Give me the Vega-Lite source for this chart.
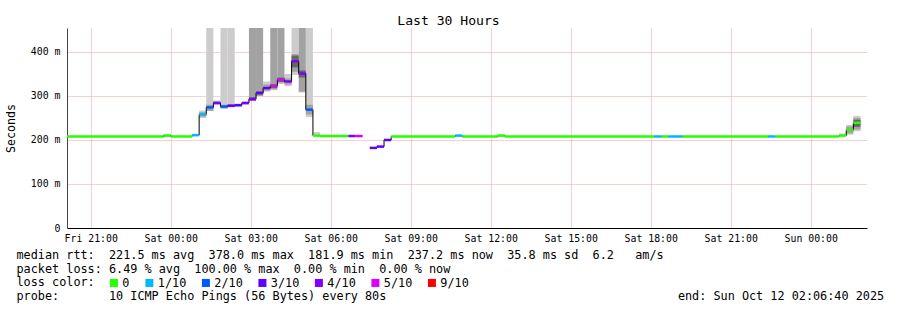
{
  "$schema": "https://vega.github.io/schema/vega-lite/v6.json",
  "width": 800,
  "height": 200,
  "autosize": {"type": "none"},
  "padding": {"left": 67, "top": 28, "right": 30, "bottom": 82},
  "background": "#ffffff",
  "config": {"view": {"stroke": null}, "font": "DejaVu Sans Mono", "axis": {"labelOverlap": false}},
  "title": {"text": "Last 30 Hours", "font": "DejaVu Sans Mono", "fontSize": 13.1, "fontWeight": "normal", "color": "#000000",
    "anchor": "middle", "frame": "group", "dx": -18.5, "dy": 14, "offset": 4, "baseline": "alphabetic"},
  "datasets": {
    "med": [
      {"t0": "2025-10-10T20:06:40Z", "t1": "2025-10-10T23:44:00Z", "med": 208, "loss": "0", "run": 1},
      {"t0": "2025-10-10T23:44:00Z", "t1": "2025-10-11T00:00:00Z", "med": 210, "loss": "0", "run": 1},
      {"t0": "2025-10-11T00:00:00Z", "t1": "2025-10-11T00:48:00Z", "med": 208, "loss": "0", "run": 1},
      {"t0": "2025-10-11T00:48:00Z", "t1": "2025-10-11T01:04:00Z", "med": 211, "loss": "1/10", "run": 1},
      {"t0": "2025-10-11T01:04:00Z", "t1": "2025-10-11T01:20:00Z", "med": 258, "loss": "1/10", "run": 1},
      {"t0": "2025-10-11T01:20:00Z", "t1": "2025-10-11T01:36:00Z", "med": 274, "loss": "2/10", "run": 1},
      {"t0": "2025-10-11T01:36:00Z", "t1": "2025-10-11T01:52:00Z", "med": 284, "loss": "4/10", "run": 1},
      {"t0": "2025-10-11T01:52:00Z", "t1": "2025-10-11T02:08:00Z", "med": 276, "loss": "2/10", "run": 1},
      {"t0": "2025-10-11T02:08:00Z", "t1": "2025-10-11T02:24:00Z", "med": 278, "loss": "3/10", "run": 1},
      {"t0": "2025-10-11T02:24:00Z", "t1": "2025-10-11T02:40:00Z", "med": 279, "loss": "3/10", "run": 1},
      {"t0": "2025-10-11T02:40:00Z", "t1": "2025-10-11T02:56:00Z", "med": 284, "loss": "4/10", "run": 1},
      {"t0": "2025-10-11T02:56:00Z", "t1": "2025-10-11T03:12:00Z", "med": 293, "loss": "4/10", "run": 1},
      {"t0": "2025-10-11T03:12:00Z", "t1": "2025-10-11T03:28:00Z", "med": 307, "loss": "3/10", "run": 1},
      {"t0": "2025-10-11T03:28:00Z", "t1": "2025-10-11T03:44:00Z", "med": 318, "loss": "3/10", "run": 1},
      {"t0": "2025-10-11T03:44:00Z", "t1": "2025-10-11T04:00:00Z", "med": 323, "loss": "5/10", "run": 1},
      {"t0": "2025-10-11T04:00:00Z", "t1": "2025-10-11T04:16:00Z", "med": 337, "loss": "5/10", "run": 1},
      {"t0": "2025-10-11T04:16:00Z", "t1": "2025-10-11T04:32:00Z", "med": 333, "loss": "4/10", "run": 1},
      {"t0": "2025-10-11T04:32:00Z", "t1": "2025-10-11T04:48:00Z", "med": 379, "loss": "4/10", "run": 1},
      {"t0": "2025-10-11T04:48:00Z", "t1": "2025-10-11T05:04:00Z", "med": 351, "loss": "4/10", "run": 1},
      {"t0": "2025-10-11T05:04:00Z", "t1": "2025-10-11T05:20:00Z", "med": 269, "loss": "2/10", "run": 1},
      {"t0": "2025-10-11T05:20:00Z", "t1": "2025-10-11T05:36:00Z", "med": 210, "loss": "0", "run": 1},
      {"t0": "2025-10-11T05:36:00Z", "t1": "2025-10-11T06:40:00Z", "med": 209, "loss": "0", "run": 1},
      {"t0": "2025-10-11T06:40:00Z", "t1": "2025-10-11T06:56:00Z", "med": 209, "loss": "4/10", "run": 1},
      {"t0": "2025-10-11T06:56:00Z", "t1": "2025-10-11T07:12:00Z", "med": 209, "loss": "5/10", "run": 1},
      {"t0": "2025-10-11T07:28:00Z", "t1": "2025-10-11T07:44:00Z", "med": 182, "loss": "3/10", "run": 2},
      {"t0": "2025-10-11T07:44:00Z", "t1": "2025-10-11T08:00:00Z", "med": 185, "loss": "3/10", "run": 2},
      {"t0": "2025-10-11T08:00:00Z", "t1": "2025-10-11T08:16:00Z", "med": 200, "loss": "3/10", "run": 2},
      {"t0": "2025-10-11T08:16:00Z", "t1": "2025-10-11T10:40:00Z", "med": 208, "loss": "0", "run": 2},
      {"t0": "2025-10-11T10:40:00Z", "t1": "2025-10-11T10:56:00Z", "med": 210, "loss": "1/10", "run": 2},
      {"t0": "2025-10-11T10:56:00Z", "t1": "2025-10-11T12:16:00Z", "med": 208, "loss": "0", "run": 2},
      {"t0": "2025-10-11T12:16:00Z", "t1": "2025-10-11T12:32:00Z", "med": 210, "loss": "0", "run": 2},
      {"t0": "2025-10-11T12:32:00Z", "t1": "2025-10-11T18:08:00Z", "med": 208, "loss": "0", "run": 2},
      {"t0": "2025-10-11T18:08:00Z", "t1": "2025-10-11T18:24:00Z", "med": 208, "loss": "1/10", "run": 2},
      {"t0": "2025-10-11T18:24:00Z", "t1": "2025-10-11T18:40:00Z", "med": 208, "loss": "0", "run": 2},
      {"t0": "2025-10-11T18:40:00Z", "t1": "2025-10-11T19:12:00Z", "med": 208, "loss": "1/10", "run": 2},
      {"t0": "2025-10-11T19:12:00Z", "t1": "2025-10-11T22:24:00Z", "med": 208, "loss": "0", "run": 2},
      {"t0": "2025-10-11T22:24:00Z", "t1": "2025-10-11T22:40:00Z", "med": 208, "loss": "1/10", "run": 2},
      {"t0": "2025-10-11T22:40:00Z", "t1": "2025-10-12T01:04:00Z", "med": 208, "loss": "0", "run": 2},
      {"t0": "2025-10-12T01:04:00Z", "t1": "2025-10-12T01:20:00Z", "med": 210, "loss": "0", "run": 2},
      {"t0": "2025-10-12T01:20:00Z", "t1": "2025-10-12T01:36:00Z", "med": 223, "loss": "0", "run": 2},
      {"t0": "2025-10-12T01:36:00Z", "t1": "2025-10-12T01:52:00Z", "med": 239, "loss": "0", "run": 2}
    ],
    "smoke": [
      {"t0": "2025-10-10T23:44:00Z", "t1": "2025-10-11T00:00:00Z", "lo": 208, "hi": 213, "band": "outer"},
      {"t0": "2025-10-11T01:04:00Z", "t1": "2025-10-11T01:20:00Z", "lo": 250, "hi": 267, "band": "outer"},
      {"t0": "2025-10-11T01:20:00Z", "t1": "2025-10-11T01:36:00Z", "lo": 266, "hi": 454.5, "band": "outer"},
      {"t0": "2025-10-11T01:36:00Z", "t1": "2025-10-11T01:52:00Z", "lo": 280, "hi": 290, "band": "outer"},
      {"t0": "2025-10-11T01:52:00Z", "t1": "2025-10-11T02:08:00Z", "lo": 271, "hi": 454.5, "band": "outer"},
      {"t0": "2025-10-11T02:08:00Z", "t1": "2025-10-11T02:24:00Z", "lo": 274, "hi": 454.5, "band": "outer"},
      {"t0": "2025-10-11T02:24:00Z", "t1": "2025-10-11T02:40:00Z", "lo": 276, "hi": 283, "band": "outer"},
      {"t0": "2025-10-11T02:40:00Z", "t1": "2025-10-11T02:56:00Z", "lo": 280, "hi": 288, "band": "outer"},
      {"t0": "2025-10-11T02:56:00Z", "t1": "2025-10-11T03:12:00Z", "lo": 288, "hi": 298, "band": "outer"},
      {"t0": "2025-10-11T03:12:00Z", "t1": "2025-10-11T03:28:00Z", "lo": 300, "hi": 311, "band": "outer"},
      {"t0": "2025-10-11T03:28:00Z", "t1": "2025-10-11T03:44:00Z", "lo": 310, "hi": 333, "band": "outer"},
      {"t0": "2025-10-11T03:44:00Z", "t1": "2025-10-11T04:00:00Z", "lo": 313, "hi": 328, "band": "outer"},
      {"t0": "2025-10-11T04:00:00Z", "t1": "2025-10-11T04:16:00Z", "lo": 327, "hi": 345, "band": "outer"},
      {"t0": "2025-10-11T04:16:00Z", "t1": "2025-10-11T04:32:00Z", "lo": 322, "hi": 350, "band": "outer"},
      {"t0": "2025-10-11T04:32:00Z", "t1": "2025-10-11T04:48:00Z", "lo": 348, "hi": 454.5, "band": "outer"},
      {"t0": "2025-10-11T04:48:00Z", "t1": "2025-10-11T05:04:00Z", "lo": 308, "hi": 318, "band": "outer"},
      {"t0": "2025-10-11T05:04:00Z", "t1": "2025-10-11T05:20:00Z", "lo": 252, "hi": 454.5, "band": "outer"},
      {"t0": "2025-10-11T05:20:00Z", "t1": "2025-10-11T05:36:00Z", "lo": 209, "hi": 218, "band": "outer"},
      {"t0": "2025-10-11T12:16:00Z", "t1": "2025-10-11T12:32:00Z", "lo": 208, "hi": 213, "band": "outer"},
      {"t0": "2025-10-12T01:04:00Z", "t1": "2025-10-12T01:20:00Z", "lo": 209, "hi": 215, "band": "outer"},
      {"t0": "2025-10-12T01:20:00Z", "t1": "2025-10-12T01:36:00Z", "lo": 212, "hi": 234, "band": "outer"},
      {"t0": "2025-10-12T01:36:00Z", "t1": "2025-10-12T01:52:00Z", "lo": 220, "hi": 255, "band": "outer"},
      {"t0": "2025-10-11T01:04:00Z", "t1": "2025-10-11T01:20:00Z", "lo": 253, "hi": 263, "band": "inner"},
      {"t0": "2025-10-11T01:20:00Z", "t1": "2025-10-11T01:36:00Z", "lo": 266, "hi": 280, "band": "inner"},
      {"t0": "2025-10-11T01:36:00Z", "t1": "2025-10-11T01:52:00Z", "lo": 282, "hi": 288, "band": "inner"},
      {"t0": "2025-10-11T01:52:00Z", "t1": "2025-10-11T02:08:00Z", "lo": 272, "hi": 280, "band": "inner"},
      {"t0": "2025-10-11T02:08:00Z", "t1": "2025-10-11T02:24:00Z", "lo": 275, "hi": 281, "band": "inner"},
      {"t0": "2025-10-11T02:56:00Z", "t1": "2025-10-11T03:12:00Z", "lo": 289, "hi": 454.5, "band": "inner"},
      {"t0": "2025-10-11T03:12:00Z", "t1": "2025-10-11T03:28:00Z", "lo": 300, "hi": 454.5, "band": "inner"},
      {"t0": "2025-10-11T03:28:00Z", "t1": "2025-10-11T03:44:00Z", "lo": 312, "hi": 326, "band": "inner"},
      {"t0": "2025-10-11T03:44:00Z", "t1": "2025-10-11T04:00:00Z", "lo": 315, "hi": 454.5, "band": "inner"},
      {"t0": "2025-10-11T04:00:00Z", "t1": "2025-10-11T04:16:00Z", "lo": 330, "hi": 454.5, "band": "inner"},
      {"t0": "2025-10-11T04:16:00Z", "t1": "2025-10-11T04:32:00Z", "lo": 326, "hi": 340, "band": "inner"},
      {"t0": "2025-10-11T04:32:00Z", "t1": "2025-10-11T04:48:00Z", "lo": 355, "hi": 395, "band": "inner"},
      {"t0": "2025-10-11T04:48:00Z", "t1": "2025-10-11T05:04:00Z", "lo": 310, "hi": 454.5, "band": "inner"},
      {"t0": "2025-10-11T05:04:00Z", "t1": "2025-10-11T05:20:00Z", "lo": 258, "hi": 280, "band": "inner"},
      {"t0": "2025-10-12T01:20:00Z", "t1": "2025-10-12T01:36:00Z", "lo": 215, "hi": 231, "band": "inner"},
      {"t0": "2025-10-12T01:36:00Z", "t1": "2025-10-12T01:52:00Z", "lo": 224, "hi": 250, "band": "inner"},
      {"t0": "2025-10-11T02:56:00Z", "t1": "2025-10-11T03:12:00Z", "lo": 290, "hi": 297, "band": "core"},
      {"t0": "2025-10-11T03:12:00Z", "t1": "2025-10-11T03:28:00Z", "lo": 303, "hi": 310, "band": "core"},
      {"t0": "2025-10-11T03:44:00Z", "t1": "2025-10-11T04:00:00Z", "lo": 318, "hi": 327, "band": "core"},
      {"t0": "2025-10-11T04:00:00Z", "t1": "2025-10-11T04:16:00Z", "lo": 332, "hi": 342, "band": "core"},
      {"t0": "2025-10-11T04:32:00Z", "t1": "2025-10-11T04:48:00Z", "lo": 365, "hi": 392, "band": "core"},
      {"t0": "2025-10-11T04:48:00Z", "t1": "2025-10-11T05:04:00Z", "lo": 342, "hi": 358, "band": "core"},
      {"t0": "2025-10-12T01:36:00Z", "t1": "2025-10-12T01:52:00Z", "lo": 230, "hi": 246, "band": "core"}
    ]
  },
  "layer": [
    {
      "data": {"name": "smoke"},
      "mark": {"type": "rect"},
      "encoding": {
        "x": {
          "field": "t0", "type": "temporal",
          "scale": {"type": "utc", "nice": false, "domain": [1760126800000, 1760234800000]}
        },
        "x2": {"field": "t1"},
        "y": {
          "field": "lo", "type": "quantitative",
          "scale": {"domain": [0, 454.5], "nice": false, "zero": true}
        },
        "y2": {"field": "hi"},
        "fill": {"field": "band", "type": "nominal",
          "scale": {"domain": ["outer", "inner", "core"], "range": ["#cccccc", "#a2a2a2", "#666666"]},
          "legend": null}
      }
    },
    {
      "data": {"name": "med"},
      "mark": {"type": "line", "interpolate": "step-after", "color": "#000000", "strokeWidth": 1},
      "encoding": {
        "x": {"field": "t0", "type": "temporal", "scale": {"type": "utc"}},
        "y": {"field": "med", "type": "quantitative"},
        "detail": {"field": "run", "type": "nominal"}
      }
    },
    {
      "data": {"name": "med"},
      "mark": {"type": "rule", "strokeWidth": 2.5, "strokeCap": "butt"},
      "encoding": {
        "x": {
          "field": "t0", "type": "temporal", "scale": {"type": "utc"},
          "axis": {"orient": "bottom",
            "values": [1760130000000, 1760140800000, 1760151600000, 1760162400000, 1760173200000, 1760184000000, 1760194800000, 1760205600000, 1760216400000, 1760227200000],
            "labelExpr": "utcFormat(datum.value, '%a %H:%M')",
            "labelFont": "DejaVu Sans Mono", "labelFontSize": 9.85, "labelColor": "#000000", "labelPadding": 5,
            "labelFlush": false, "labelOverlap": false,
            "ticks": false, "domain": true, "domainColor": "#000000", "domainWidth": 1,
            "grid": true, "gridDash": [1, 1], "gridColor": "#f2a0a0", "gridOpacity": 1,
            "title": [
              "median\u00a0rtt:\u00a0\u00a0221.5\u00a0ms\u00a0avg\u00a0\u00a0378.0\u00a0ms\u00a0max\u00a0\u00a0181.9\u00a0ms\u00a0min\u00a0\u00a0237.2\u00a0ms\u00a0now\u00a0\u00a035.8\u00a0ms\u00a0sd\u00a0\u00a06.2\u00a0\u00a0\u00a0am/s",
              "packet\u00a0loss:\u00a06.49\u00a0%\u00a0avg\u00a0\u00a0100.00\u00a0%\u00a0max\u00a0\u00a00.00\u00a0%\u00a0min\u00a0\u00a00.00\u00a0%\u00a0now",
              "loss\u00a0color:",
              "probe:\u00a0\u00a0\u00a0\u00a0\u00a0\u00a0\u00a010\u00a0ICMP\u00a0Echo\u00a0Pings\u00a0(56\u00a0Bytes)\u00a0every\u00a080s\u00a0\u00a0\u00a0\u00a0\u00a0\u00a0\u00a0\u00a0\u00a0\u00a0\u00a0\u00a0\u00a0\u00a0\u00a0\u00a0\u00a0\u00a0\u00a0\u00a0\u00a0\u00a0\u00a0\u00a0\u00a0\u00a0\u00a0\u00a0\u00a0\u00a0\u00a0\u00a0\u00a0\u00a0\u00a0\u00a0\u00a0\u00a0\u00a0\u00a0\u00a0end:\u00a0Sun\u00a0Oct\u00a012\u00a002:06:40\u00a02025"
            ],
            "titleFont": "DejaVu Sans Mono", "titleFontSize": 11.82, "titleFontWeight": "normal", "titleColor": "#000000",
            "titleAlign": "left", "titleAnchor": "start", "titleBaseline": "alphabetic",
            "titleX": -51, "titleY": 30.5, "titleLineHeight": 13.7}
        },
        "x2": {"field": "t1"},
        "y": {
          "field": "med", "type": "quantitative",
          "axis": {"orient": "left",
            "values": [0, 100, 200, 300, 400],
            "labelExpr": "datum.value == 0 ? '0' : datum.value + ' m'",
            "labelFont": "DejaVu Sans Mono", "labelFontSize": 9.85, "labelColor": "#000000", "labelPadding": 7,
            "labelOverlap": false,
            "ticks": false, "domain": true, "domainColor": "#444444", "domainWidth": 1,
            "grid": true, "gridDash": [1, 1], "gridColor": "#f2a0a0", "gridOpacity": 1,
            "title": "Seconds", "titleFont": "DejaVu Sans Mono", "titleFontSize": 11.6, "titleFontWeight": "normal",
            "titleColor": "#000000", "titleAngle": 270, "titleAlign": "center", "titleBaseline": "middle",
            "titleX": -56, "titleY": 100}
        },
        "color": {
          "field": "loss", "type": "nominal",
          "scale": {"domain": ["0", "1/10", "2/10", "3/10", "4/10", "5/10", "9/10"],
            "range": ["#26ff00", "#00b8ff", "#0059ff", "#5e00ff", "#7e00ff", "#dd00ff", "#ff0000"]},
          "legend": {"title": null, "orient": "none", "legendX": 41, "legendY": 249, "direction": "horizontal",
            "symbolType": "square", "symbolSize": 16, "symbolStrokeWidth": 4,
            "labelFont": "DejaVu Sans Mono", "labelFontSize": 11.82, "labelColor": "#000000",
            "labelOffset": 2.5, "columnPadding": 8.5, "padding": 0}
        }
      }
    }
  ]
}
